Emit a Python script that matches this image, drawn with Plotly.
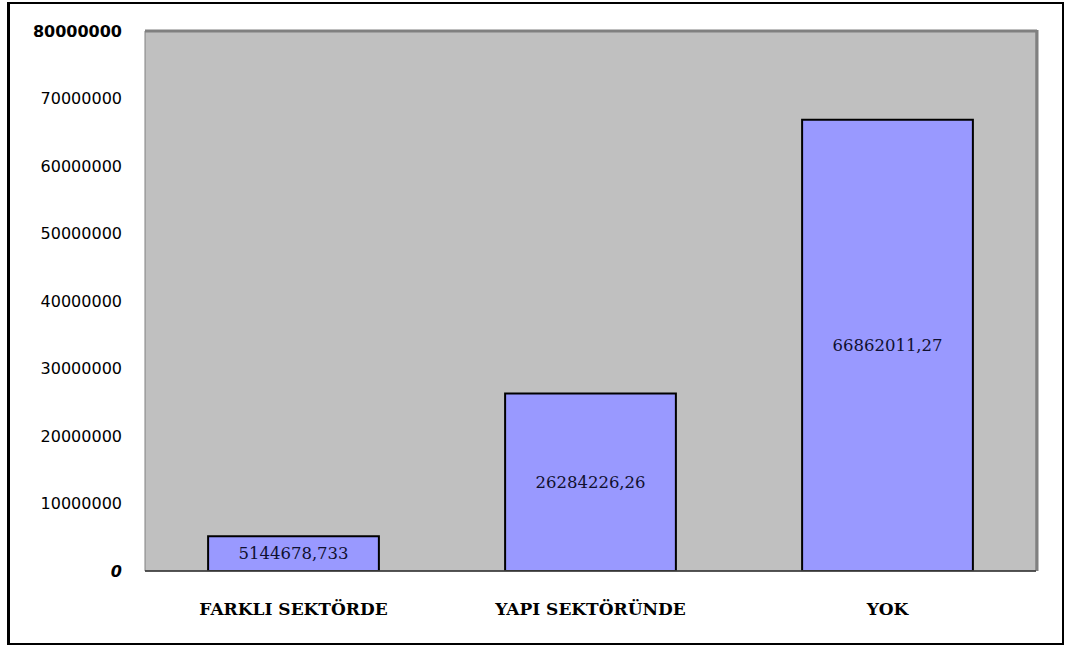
import plotly.graph_objects as go

categories = ["FARKLI SEKTÖRDE", "YAPI SEKTÖRÜNDE", "YOK"]
values = [5144678.733, 26284226.26, 66862011.27]
value_labels = ["5144678,733", "26284226,26", "66862011,27"]
tick_vals = [0, 10000000, 20000000, 30000000, 40000000, 50000000, 60000000, 70000000, 80000000]
tick_text = ["<b><i>0</i></b>", "10000000", "20000000", "30000000", "40000000", "50000000",
             "60000000", "70000000", "<b>80000000</b>"]

W, H = 1066, 646
L, R, T, B = 145, 1036, 31, 571
PW, PH = R - L, B - T

def px(x):
    return (x - L) / PW

def py(y):
    return (B - y) / PH

fig = go.Figure(go.Bar(
    x=categories,
    y=values,
    text=value_labels,
    textposition="inside",
    insidetextanchor="middle",
    textangle=0,
    textfont=dict(family="DejaVu Serif", size=16.5, color="#101030"),
    marker=dict(color="#9999FF", line=dict(color="black", width=2)),
    width=0.575,
    hoverinfo="skip",
))

shapes = [
    # outer frame
    dict(type="rect", xref="paper", yref="paper", x0=px(8), x1=px(1063), y0=py(644), y1=py(3),
         line=dict(color="black", width=2), layer="below"),
    dict(type="line", xref="paper", yref="paper", x0=px(8.5), x1=px(8.5), y0=py(644), y1=py(3),
         line=dict(color="black", width=3)),
    # plot area border
    dict(type="rect", xref="paper", yref="paper", x0=0, x1=1, y0=0, y1=1,
         line=dict(color="#808080", width=1), layer="above"),
    dict(type="line", xref="paper", yref="paper", x0=0, x1=px(1037), y0=py(31), y1=py(31),
         line=dict(color="#808080", width=3)),
    dict(type="line", xref="paper", yref="paper", x0=px(1037), x1=px(1037), y0=0, y1=py(30),
         line=dict(color="#808080", width=3)),
    dict(type="line", xref="paper", yref="paper", x0=0, x1=1, y0=0, y1=0,
         line=dict(color="#333333", width=1.5)),
]

fig.update_layout(
    width=W, height=H,
    margin=dict(l=L, r=W - R, t=T, b=H - B, pad=0),
    paper_bgcolor="white",
    plot_bgcolor="#C0C0C0",
    showlegend=False,
    shapes=shapes,
    xaxis=dict(
        showgrid=False, zeroline=False, showline=False, ticks="",
        tickfont=dict(family="DejaVu Serif", size=17, color="black", weight="bold"),
        ticklabelstandoff=26,
    ),
    yaxis=dict(
        range=[0, 80000000],
        tickmode="array", tickvals=tick_vals, ticktext=tick_text,
        showgrid=False, zeroline=False, showline=False, ticks="",
        tickfont=dict(family="DejaVu Sans", size=16, color="black"),
        ticklabelstandoff=22,
    ),
)

fig.write_html("out.html", config={"displayModeBar": False},
               post_script="document.body.style.margin='0';")
